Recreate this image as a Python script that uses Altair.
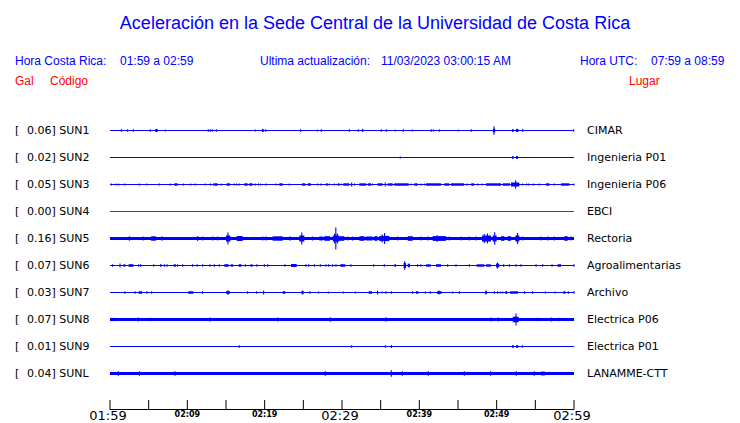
import altair as alt
import pandas as pd

BLUE = "#0000FF"
RED = "#FF0000"

# ---------------- data ----------------
STATIONS = ["SUN1", "SUN2", "SUN3", "SUN4", "SUN5", "SUN6", "SUN7", "SUN8", "SUN9", "SUNL"]
PEAKS = ["0.06", "0.02", "0.05", "0.00", "0.16", "0.07", "0.03", "0.07", "0.01", "0.04"]
PLACES = ["CIMAR", "Ingenieria P01", "Ingenieria P06", "EBCI", "Rectoria",
          "Agroalimentarias", "Archivo", "Electrica P06", "Electrica P01", "LANAMME-CTT"]
TRACE_COLORS = [BLUE, BLUE, BLUE, RED, BLUE, BLUE, BLUE, BLUE, BLUE, BLUE]
# background noise half-amplitude of each trace (arbitrary units, row spacing = 27)
NOISE = [0.5, 0.5, 0.5, 0.5, 1.5, 0.5, 0.5, 1.4, 0.5, 1.5]

# single spikes: (minute after 01:59, half-amplitude)
SPIKES = {
    "SUN1": [(1.47, 1.3), (2.24, 1.3), (3.02, 1.3), (5.21, 1.3), (7.15, 0.9), (12.71, 1.3), (12.97, 1.3),
             (13.23, 1.3), (13.75, 1.3), (18.79, 0.9), (20.13, 1.3), (24.65, 1.3), (26.81, 1.0), (27.33, 1.3),
             (30.95, 1.3), (32.11, 1.3), (35.08, 1.3), (35.73, 1.3), (36.89, 1.0), (37.93, 1.3), (39.09, 1.0),
             (41.55, 1.3), (41.81, 1.0), (42.58, 1.3), (45.04, 1.0), (46.72, 1.3), (49.65, 4.2), (59.95, 1.3)],
    "SUN2": [(37.54, 0.9)],
    "SUN3": [(0.17, 1.1), (0.78, 1.1), (1.12, 1.1), (1.9, 1.1), (3.8, 1.1), (4.74, 1.1), (6.38, 1.1), (7.8, 1.1),
             (9.48, 1.1), (10.43, 1.1), (11.03, 1.1), (12.33, 1.1), (13.0, 1.1), (14.35, 1.1), (16.08, 1.1),
             (16.38, 1.1), (16.72, 1.1), (18.8, 1.1), (19.2, 1.1), (19.5, 1.1), (20.17, 1.1), (21.47, 1.1),
             (23.19, 1.1), (26.85, 1.1), (27.28, 1.1), (28.36, 1.1), (29.0, 1.1), (29.87, 1.1), (31.25, 2.0),
             (31.6, 1.1), (33.97, 1.1), (35.6, 2.0), (38.92, 1.1), (40.2, 1.1), (40.65, 1.1), (46.16, 1.1),
             (47.54, 1.1), (48.1, 1.1), (52.45, 4.3), (53.36, 1.1), (53.88, 1.1), (54.14, 1.1), (54.74, 1.1),
             (55.52, 1.1), (57.46, 1.1), (60.0, 1.1)],
    "SUN4": [],
    "SUN5": [(2.5, 2.2), (4.3, 2.0), (6.72, 2.2), (11.34, 2.5), (11.98, 2.0), (13.28, 2.0), (13.92, 2.0),
             (15.25, 6.0), (19.74, 2.0), (20.17, 2.0), (23.28, 2.2), (24.8, 6.0), (26.2, 2.0), (29.2, 11.0),
             (29.05, 5.0), (29.4, 5.0), (30.73, 2.0), (31.38, 2.0), (35.2, 4.0), (35.5, 5.5), (37.2, 2.0),
             (40.2, 2.0), (41.08, 2.0), (42.3, 3.2), (43.88, 2.0), (45.4, 2.0), (46.47, 2.0), (47.33, 2.0),
             (48.4, 4.5), (48.8, 5.0), (49.75, 6.3), (52.7, 5.5), (53.36, 2.0), (55.73, 2.0), (56.6, 2.0),
             (57.46, 2.0), (59.6, 2.0)],
    "SUN6": [(0.34, 1.2), (1.29, 2.0), (3.7, 1.2), (3.97, 1.2), (5.65, 1.2), (7.03, 1.2), (7.37, 1.2), (8.75, 1.2),
             (9.4, 1.2), (10.69, 1.2), (11.25, 1.2), (11.98, 1.2), (12.93, 1.2), (13.49, 1.2), (14.14, 1.2),
             (15.69, 1.2), (15.86, 1.2), (17.5, 1.2), (19.0, 1.2), (19.96, 1.2), (20.39, 1.2), (22.63, 1.2),
             (25.34, 1.2), (25.69, 1.2), (26.42, 1.2), (27.2, 1.2), (27.93, 1.2), (28.28, 1.2), (28.8, 1.2),
             (29.22, 1.2), (31.16, 1.2), (34.1, 1.2), (35.47, 1.2), (38.1, 4.3), (39.78, 1.2), (40.2, 1.2),
             (43.66, 1.2), (44.74, 1.2), (46.47, 1.2), (50.1, 3.0), (50.9, 1.2), (51.64, 1.2), (52.5, 1.2),
             (53.15, 1.2), (55.09, 1.2), (55.95, 1.2), (57.16, 1.2), (60.0, 1.2)],
    "SUN7": [(1.94, 1.2), (3.23, 1.2), (4.78, 1.2), (5.39, 1.2), (11.94, 1.2), (15.25, 2.2), (17.8, 1.2),
             (18.97, 1.2), (19.87, 2.0), (24.91, 2.0), (25.86, 1.2), (26.98, 1.0), (28.23, 1.0), (30.17, 1.0),
             (31.72, 1.0), (34.6, 2.0), (35.17, 1.0), (35.69, 1.2), (36.38, 1.2), (39.14, 1.2), (40.78, 1.0),
             (41.42, 1.2), (42.55, 2.0), (44.31, 1.0), (45.17, 1.2), (48.62, 2.0), (49.7, 1.2), (50.13, 1.2),
             (50.47, 1.0), (50.78, 1.0), (53.62, 1.2), (54.66, 1.2), (56.29, 1.0), (57.54, 1.0), (59.27, 1.2),
             (60.0, 1.2)],
    "SUN8": [(3.66, 2.0), (5.22, 1.8), (12.93, 2.0), (21.68, 1.9), (28.49, 2.3), (35.69, 2.2), (49.27, 2.0),
             (50.22, 2.0), (52.5, 6.0), (55.3, 1.8), (57.07, 2.0), (58.1, 1.8)],
    "SUN9": [(16.72, 1.2), (31.25, 1.2), (35.6, 1.2), (36.38, 1.6), (53.32, 1.2)],
    "SUNL": [(1.08, 2.2), (3.8, 2.2), (8.4, 2.2), (27.84, 2.2), (36.38, 3.2), (37.8, 2.2), (41.16, 2.2),
             (45.82, 2.2), (49.22, 2.2), (52.54, 2.2), (54.87, 2.2), (55.86, 2.2), (56.12, 2.2)],
}

# bursts: (start minute, end minute, half-amplitude)
BURSTS = {
    "SUN1": [(5.86, 6.16, 1.6), (19.65, 19.87, 1.5), (32.58, 32.76, 1.4), (49.52, 49.82, 1.8),
             (51.98, 52.19, 1.4), (52.50, 52.80, 1.6), (53.31, 53.44, 1.4)],
    "SUN2": [(51.98, 52.19, 1.3), (52.50, 52.76, 1.4)],
    "SUN3": [(8.32, 8.75, 1.2), (13.36, 13.92, 1.2), (15.09, 15.52, 1.2), (17.37, 17.8, 1.2), (18.0, 18.45, 1.2),
             (21.9, 22.33, 1.2), (24.83, 25.26, 1.2), (25.56, 25.99, 1.2), (27.93, 28.15, 1.2), (29.44, 29.66, 1.2),
             (30.17, 30.95, 1.2), (32.24, 33.1, 1.2), (33.32, 33.75, 1.2), (34.6, 35.26, 1.2), (35.9, 36.55, 1.2),
             (36.77, 38.62, 1.2), (39.35, 39.78, 1.2), (40.86, 42.8, 1.2), (43.23, 43.88, 1.2), (44.1, 45.8, 1.2),
             (46.7, 47.1, 1.2), (48.62, 50.56, 1.2), (50.78, 51.72, 1.2), (51.85, 52.93, 2.0), (56.38, 56.81, 1.2),
             (58.32, 59.4, 1.2)],
    "SUN4": [],
    "SUN5": [(5.3, 5.95, 2.2), (15.0, 15.56, 3.0), (16.38, 17.16, 2.5), (21.03, 22.33, 2.2), (24.48, 25.13, 3.0),
             (27.07, 27.5, 2.0), (27.7, 28.45, 2.3), (28.8, 29.66, 3.0), (29.66, 30.3, 2.3), (32.24, 32.9, 2.3),
             (33.1, 33.97, 2.0), (34.18, 34.6, 2.3), (34.83, 36.12, 2.6), (38.5, 39.14, 2.3), (41.72, 43.45, 2.4),
             (48.1, 49.27, 3.0), (49.48, 50.0, 3.0), (50.56, 51.0, 2.3), (51.42, 51.85, 2.3), (52.41, 52.93, 3.0),
             (58.75, 59.18, 2.3)],
    "SUN6": [(1.72, 1.98, 1.2), (2.41, 3.02, 1.3), (6.47, 6.68, 1.2), (8.23, 8.53, 1.2), (14.78, 15.34, 1.3),
             (16.64, 16.98, 1.3), (18.15, 18.45, 1.2), (23.4, 24.14, 1.5), (29.78, 30.43, 1.3), (36.77, 36.98, 1.2),
             (37.97, 38.28, 2.5), (38.49, 38.79, 1.8), (40.86, 41.5, 1.2), (42.16, 42.8, 1.3), (47.41, 48.4, 1.2),
             (48.62, 49.27, 1.2), (49.91, 50.34, 1.8), (57.89, 58.32, 1.3)],
    "SUN7": [(3.7, 4.14, 1.3), (10.13, 10.78, 1.3), (15.0, 15.52, 1.3), (22.33, 22.67, 1.3), (24.75, 25.05, 1.3),
             (33.45, 33.88, 1.3), (39.57, 39.87, 1.3), (42.28, 42.89, 1.3), (48.5, 48.75, 1.3), (51.12, 51.38, 1.3),
             (51.72, 52.76, 1.2), (58.62, 58.88, 1.3)],
    "SUN8": [(0.0, 0.69, 1.6), (52.07, 52.84, 2.8)],
    "SUN9": [(51.98, 52.24, 1.2), (52.5, 52.8, 1.3)],
    "SUNL": [],
}

TICK_MINUTES = [0, 5, 10, 15, 20, 25, 30, 35, 40, 45, 50, 55, 60]
MAJOR_TICKS = [0, 30, 60]
MAJOR_LABELS = ["01:59", "02:29", "02:59"]
MINOR_TICKS = [10, 20, 40, 50]
MINOR_LABELS = ["02:09", "02:19", "02:39", "02:49"]

ROW_SPACING = 27  # amplitude units between two traces

# ---------------- tables ----------------
rect_rows, rule_rows = [], []
for i, st in enumerate(STATIONS):
    c = TRACE_COLORS[i]
    base = i * ROW_SPACING
    rect_rows.append({"t0": 0, "t1": 60, "lo": base - NOISE[i], "hi": base + NOISE[i], "c": c})
    for t0, t1, a in BURSTS[st]:
        rect_rows.append({"t0": t0, "t1": t1, "lo": base - a, "hi": base + a, "c": c})
    for t, a in SPIKES[st]:
        rule_rows.append({"t": t, "lo": base - a, "hi": base + a, "c": c})
rects = pd.DataFrame(rect_rows)
rules = pd.DataFrame(rule_rows)
labels = pd.DataFrame({"row": [i * ROW_SPACING for i in range(len(STATIONS))],
                       "left": [f"{p}] {s}" for p, s in zip(PEAKS, STATIONS)],
                       "place": PLACES})

xs = alt.Scale(domain=[0, 60], nice=False, zero=False)
ys = alt.Scale(domain=[278.5, -30.5], nice=False, zero=False)

burst_layer = alt.Chart(rects).mark_rect().encode(
    x=alt.X("t0:Q", scale=xs, axis=None), x2="t1:Q",
    y=alt.Y("lo:Q", scale=ys, axis=None), y2="hi:Q",
    color=alt.Color("c:N", scale=None))
spike_layer = alt.Chart(rules).mark_rule(strokeWidth=1.1).encode(
    x=alt.X("t:Q", scale=xs, axis=None),
    y=alt.Y("lo:Q", scale=ys, axis=None), y2="hi:Q",
    color=alt.Color("c:N", scale=None))

FONT_D = "DejaVu Sans"
FONT_A = "Liberation Sans"

bracket = alt.Chart(labels).mark_text(align="left", baseline="middle", font=FONT_D, fontSize=11,
                                      color="black", text="[").encode(
    x=alt.value(-95), y=alt.Y("row:Q", scale=ys, axis=None))
left_lab = alt.Chart(labels).mark_text(align="left", baseline="middle", font=FONT_D, fontSize=11,
                                       color="black").encode(
    x=alt.value(-83), y=alt.Y("row:Q", scale=ys, axis=None), text="left:N")
right_lab = alt.Chart(labels).mark_text(align="left", baseline="middle", font=FONT_D, fontSize=11,
                                        color="black").encode(
    x=alt.value(477), y=alt.Y("row:Q", scale=ys, axis=None), text="place:N")

# time axis
ticks_df = pd.DataFrame({"t": TICK_MINUTES})
axis_line = alt.Chart(pd.DataFrame({"a": [0], "b": [60]})).mark_rule(color="black", strokeWidth=1).encode(
    x=alt.X("a:Q", scale=xs, axis=None), x2="b:Q", y=alt.value(309.5))
axis_ticks = alt.Chart(ticks_df).mark_rule(color="black", strokeWidth=1).encode(
    x=alt.X("t:Q", scale=xs, axis=None), y=alt.value(300), y2=alt.value(309.5))
major = alt.Chart(pd.DataFrame({"t": MAJOR_TICKS, "s": MAJOR_LABELS})).mark_text(
    align="center", baseline="alphabetic", font=FONT_D, fontSize=13, color="black", dx=-2).encode(
    x=alt.X("t:Q", scale=xs, axis=None), y=alt.value(320), text="s:N")
minor = alt.Chart(pd.DataFrame({"t": MINOR_TICKS, "s": MINOR_LABELS})).mark_text(
    align="center", baseline="alphabetic", font=FONT_D, fontSize=8, fontWeight="bold", color="black").encode(
    x=alt.X("t:Q", scale=xs, axis=None), y=alt.value(316.5), text="s:N")


def note(text, x, y, color, size=12, align="left"):
    return alt.Chart(pd.DataFrame({"s": [text]})).mark_text(
        align=align, baseline="alphabetic", font=FONT_A, fontSize=size, color=color).encode(
        x=alt.value(x), y=alt.value(y), text="s:N")


headers = [
    note("Aceleración en la Sede Central de la Universidad de Costa Rica", 265, -71, BLUE, 18, "center"),
    note("Hora Costa Rica:", -95, -35.5, BLUE),
    note("01:59 a 02:59", 10, -35.5, BLUE),
    note("Ultima actualización:", 150, -35.5, BLUE),
    note("11/03/2023 03:00:15 AM", 271, -35.5, BLUE),
    note("Hora UTC:", 470, -35.5, BLUE),
    note("07:59 a 08:59", 541, -35.5, BLUE),
    note("Gal", -95, -15.5, RED),
    note("Código", -60, -15.5, RED),
    note("Lugar", 519, -15.5, RED),
]

chart = alt.layer(
    burst_layer, spike_layer, bracket, left_lab, right_lab,
    axis_line, axis_ticks, major, minor, *headers
).properties(
    width=464, height=309,
    padding={"left": 102, "top": 92, "right": 158, "bottom": 14},
    autosize=alt.AutoSizeParams(type="none"),
    background="white",
).configure_view(stroke=None)

chart.save("out.html", embed_options={"renderer": "svg", "actions": False})
